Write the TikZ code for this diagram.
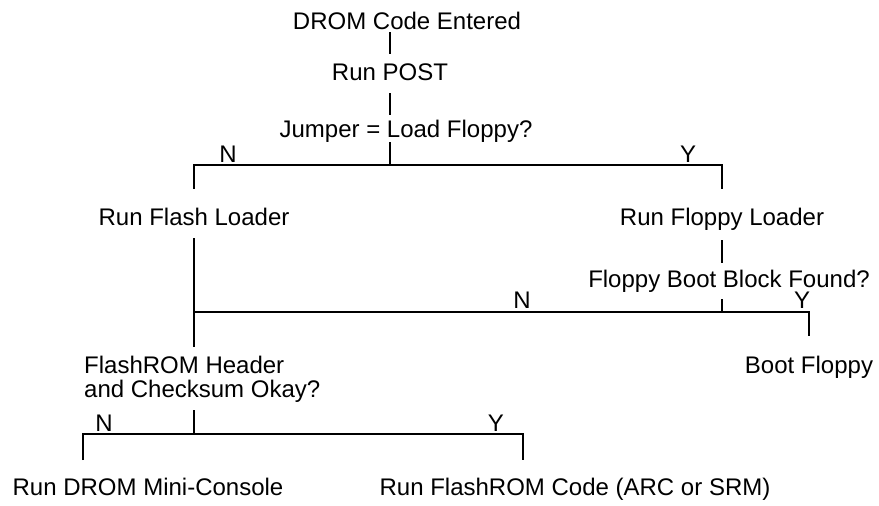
\documentclass[tikz,border=0pt]{standalone}
\usepackage{fontspec}
\setmainfont{Liberation Sans}
\tikzset{
  stage/.style={anchor=base,inner sep=0pt,text height=17pt,text depth=5pt,
    font=\fontsize{24}{24}\selectfont},
  query/.style={anchor=base west,inner sep=0pt,align=left,
    font=\fontsize{24}{24}\selectfont},
  answer/.style={anchor=base,inner sep=0pt,font=\fontsize{24}{24}\selectfont},
  wire/.style={draw=black,line width=1.2pt},
}
\begin{document}
\begin{tikzpicture}[x=1pt,y=-1pt]
  \useasboundingbox (0,0) rectangle (879,506);
  % steps
  \node[stage] (entry) at (407,30) {DROM Code Entered};
  \node[stage] (post) at (390,80) {Run POST};
  \node[stage] (jumper) at (406,137) {Jumper = Load Floppy?};
  \node[stage] (flash) at (194,225) {Run Flash Loader};
  \node[stage] (floppy) at (722,225) {Run Floppy Loader};
  \node[stage] (found) at (729,287) {Floppy Boot Block Found?};
  \node[stage] (boot) at (809,373) {Boot Floppy};
  \node[query] (check) at (84,397) {FlashROM Header\\and Checksum Okay?};
  \node[stage] (mini) at (148,495) {Run DROM Mini-Console};
  \node[stage] (code) at (575,495) {Run FlashROM Code (ARC or SRM)};
  % branch bars
  \coordinate (bar1) at (390,165);
  \coordinate (bar2) at (722,312);
  \coordinate (bar3) at (194,434);
  \coordinate (no3) at (83,460);
  \coordinate (yes3) at (523,460);
  % answers
  \node[answer] (n1) at (228,162) {N};
  \node[answer] (y1) at (688,162) {Y};
  \node[answer] (n2) at (522,308) {N};
  \node[answer] (y2) at (802,308) {Y};
  \node[answer] (n3) at (104,431) {N};
  \node[answer] (y3) at (496,431) {Y};
  % connectors
  \draw[wire] ([yshift=3pt]entry.south -| post.base) -- ([yshift=9pt]post.north);
  \draw[wire] ([yshift=-8pt]post.south) -- ([yshift=5pt]jumper.north -| post.base);
  \draw[wire] (jumper.south -| bar1) -- (bar1);
  \draw[wire] ([yshift=19pt]flash.north) |- (bar1) -| ([yshift=19pt]floppy.north);
  \draw[wire] ([yshift=-10pt]floppy.south) -- ([yshift=7pt]found.north -| floppy.south);
  \draw[wire] ([yshift=-7pt]found.south -| bar2) -- (bar2);
  \draw[wire] ([yshift=-8pt]flash.south) -- ([yshift=8pt]check.north -| flash.south);
  \draw[wire] (bar2 -| flash.south) -- (bar2 -| boot.north) -- ([yshift=20pt]boot.north);
  \draw[wire] ([yshift=-8pt]check.south -| bar3) -- (bar3);
  \draw[wire] (no3) |- (bar3) -| (yes3);
\end{tikzpicture}
\end{document}
